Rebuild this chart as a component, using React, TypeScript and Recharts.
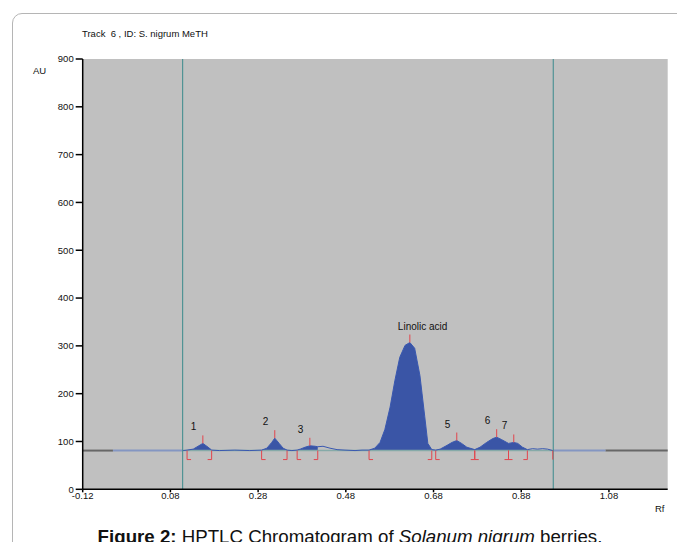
import { ComposedChart, Line, Area, Scatter, XAxis, YAxis, CartesianGrid, ReferenceLine } from "recharts";

// densitometric trace inside the track window (Rf, AU)
const TRACE_RF = [
  0.109, 0.118, 0.132, 0.143, 0.154, 0.166, 0.174, 0.192, 0.227, 0.261,
  0.288, 0.300, 0.311, 0.318, 0.328, 0.337, 0.346, 0.357, 0.369, 0.376,
  0.387, 0.398, 0.410, 0.416, 0.428, 0.444, 0.460, 0.478, 0.501, 0.517,
  0.533, 0.546, 0.558, 0.569, 0.581, 0.592, 0.603, 0.615, 0.626, 0.637,
  0.649, 0.660, 0.667, 0.676, 0.685, 0.695, 0.711, 0.722, 0.733, 0.744,
  0.756, 0.774, 0.786, 0.801, 0.815, 0.824, 0.835, 0.847, 0.851, 0.863,
  0.872, 0.883, 0.894, 0.906, 0.917, 0.929, 0.940, 0.952,
];
const TRACE_AU = [
  81, 82, 84, 90, 96, 88, 82, 81, 82, 81,
  82, 86, 98, 107, 96, 86, 82, 81, 82, 84,
  88, 91, 90, 89, 90, 86, 83, 82, 81, 82,
  82, 86, 98, 125, 172, 228, 276, 301, 307, 295,
  238, 152, 96, 83, 82, 84, 92, 98, 102, 96,
  88, 83, 88, 98, 106, 109, 104, 98, 96, 98,
  96, 88, 83, 85, 84, 85, 84, 81,
];

// integration windows [start, end]
const PEAK_WINDOWS = [
  [0.118, 0.174], [0.288, 0.346], [0.369, 0.416], [0.533, 0.676],
  [0.685, 0.774], [0.774, 0.851], [0.851, 0.894],
];
const PEAK_LABELS = ["1", "2", "3", "Linolic acid", "5", "6", "7"];
const PEAK_RF = [0.154, 0.318, 0.398, 0.626, 0.733, 0.824, 0.863];
const PEAK_AU = [96, 107, 91, 307, 102, 109, 98];

const X_TICKS = [-0.12, 0.08, 0.28, 0.48, 0.68, 0.88, 1.08];
const Y_TICKS = [0, 100, 200, 300, 400, 500, 600, 700, 800, 900];

const BASELINE = 81;
const TRACK_LINES = [0.108, 0.953];
const END_MARK = 0.952;
const BASE_DARK = [[-0.12, -0.051], [1.072, 1.214]];
const BASE_BLUE = [[-0.051, 0.108], [0.953, 1.072]];
const BASE_MID = [[0.108, 0.953]];

const RED = "#e2454d";
const BLUE = "#3a55a6";
const FONT = "'Liberation Sans', Arial, sans-serif";

const inPeak = (rf: number) => PEAK_WINDOWS.some(([a, b]) => rf >= a - 1e-9 && rf <= b + 1e-9);

const rows = TRACE_RF.map((rf, i) => ({
  rf,
  trace: TRACE_AU[i],
  fill: inPeak(rf) ? TRACE_AU[i] : null,
}));

const apexes = PEAK_RF.map((rf, i) => ({ rf, au: PEAK_AU[i], label: PEAK_LABELS[i] }));

const brackets = [
  ...PEAK_WINDOWS.map(([a]) => ({ rf: a, au: BASELINE, side: "start" })),
  ...PEAK_WINDOWS.map(([, b]) => ({ rf: b, au: BASELINE, side: "end" })),
  { rf: END_MARK, au: BASELINE, side: "mark" },
];

const ApexMark = (p: any) => {
  const { cx, cy, payload } = p;
  return (
    <g>
      <line x1={cx} x2={cx} y1={cy} y2={cy - 8} stroke={RED} strokeWidth={1} />
      <text x={cx - 12} y={cy - 13} fontSize={10} fontFamily={FONT} fill="#111">
        {payload.label}
      </text>
    </g>
  );
};

const Bracket = (p: any) => {
  const { cx, cy, payload } = p;
  const foot = payload.side === "start" ? 4 : payload.side === "end" ? -4 : 0;
  return <path d={`M${cx},${cy} V${cy + 9} h${foot}`} stroke={RED} strokeWidth={1} fill="none" />;
};

const seg = (r: number[][], color: string, w: number, key: string) =>
  r.map(([a, b], i) => (
    <ReferenceLine
      key={key + i}
      segment={[{ x: a, y: BASELINE }, { x: b, y: BASELINE }]}
      stroke={color}
      strokeWidth={w}
      ifOverflow="visible"
    />
  ));

export default function App() {
  return (
    <div style={{ position: "absolute", left: 0, top: 0, width: 677, height: 542, overflow: "hidden", background: "#fff", fontFamily: FONT }}>
      <div style={{ position: "absolute", left: 12, top: 13, width: 700, height: 560, border: "1px solid #b5b5b5", borderRadius: 10 }} />
      <div style={{ position: "absolute", left: 82, top: 28, fontSize: 9.5, lineHeight: "11px", color: "#111", whiteSpace: "pre" }}>
        {"Track  6 , ID: S. nigrum MeTH"}
      </div>
      <div style={{ position: "absolute", left: 33, top: 65, fontSize: 9.5, lineHeight: "11px", color: "#111" }}>AU</div>
      <div style={{ position: "absolute", left: 655, top: 503, fontSize: 9.5, lineHeight: "11px", color: "#111" }}>Rf</div>
      <div style={{ position: "absolute", left: 0, top: 0 }}>
        <ComposedChart width={677} height={542} data={rows} margin={{ top: 59, right: 9.3, bottom: 32.7, left: 42.7 }}>
          <CartesianGrid fill="#c0c0c0" horizontal={false} vertical={false} />
          <XAxis
            dataKey="rf"
            type="number"
            domain={[-0.12, 1.214]}
            ticks={X_TICKS}
            allowDataOverflow
            tickFormatter={(v: number) => v.toFixed(2)}
            tick={{ fontSize: 9.5, fill: "#111", fontFamily: FONT }}
            tickSize={3}
            tickMargin={0}
            height={20}
            stroke="#000"
            strokeWidth={1.5}
          />
          <YAxis
            type="number"
            domain={[0, 900]}
            ticks={Y_TICKS}
            allowDataOverflow
            tick={{ fontSize: 9.5, fill: "#111", fontFamily: FONT }}
            tickSize={7}
            tickMargin={2}
            width={40}
            stroke="#000"
            strokeWidth={1.5}
          />
          {seg(BASE_DARK, "#676767", 2, "d")}
          {seg(BASE_BLUE, "#8496c2", 2, "b")}
          {seg(BASE_MID, "#86aaa8", 1.5, "m")}
          <Area
            type="linear"
            dataKey="fill"
            baseValue={BASELINE}
            stroke="none"
            fill={BLUE}
            fillOpacity={1}
            connectNulls={false}
            isAnimationActive={false}
          />
          <Line type="linear" dataKey="trace" stroke="#3a58b0" strokeWidth={1} dot={false} isAnimationActive={false} />
          <Scatter data={apexes} dataKey="au" shape={ApexMark} isAnimationActive={false} />
          <Scatter data={brackets} dataKey="au" shape={Bracket} isAnimationActive={false} />
          {TRACK_LINES.map((x) => (
            <ReferenceLine key={x} x={x} stroke="#3a8a8c" strokeWidth={1} />
          ))}
        </ComposedChart>
      </div>
      <div style={{ position: "absolute", left: 0, width: 700, top: 526, textAlign: "center", fontSize: 18.7, lineHeight: "21px", color: "#111", whiteSpace: "nowrap" }}>
        <b>Figure 2:</b> HPTLC Chromatogram of <i>Solanum nigrum</i> berries.
      </div>
    </div>
  );
}
